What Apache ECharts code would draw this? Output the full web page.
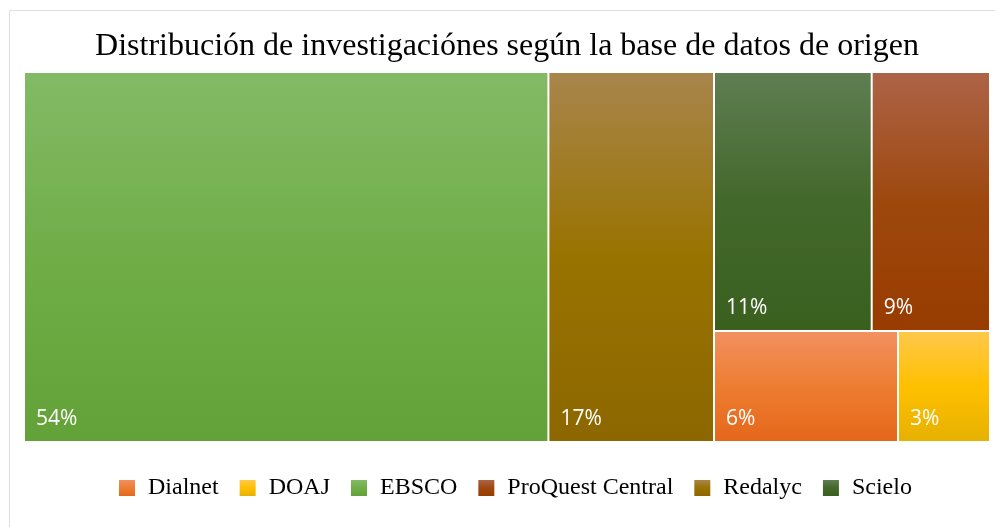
<!DOCTYPE html>
<html>
<head>
<meta charset="utf-8">
<script src="https://cdn.jsdelivr.net/npm/echarts@6/dist/echarts.min.js"></script>
<style>
    html, body {margin: 0; padding: 0; background: #fff;}
    #main {width: 995px; height: 527px;}
</style>
</head>
<body>
<div id="main"></div>
<script>
// datos: numero de investigaciones por base de datos
var bases = ['EBSCO', 'Redalyc', 'Scielo', 'ProQuest Central', 'Dialnet', 'DOAJ'];
var cantidades = [19, 6, 4, 3, 2, 1];
// orden de la leyenda (alfabetico, como en Excel)
var leyenda = ['Dialnet', 'DOAJ', 'EBSCO', 'ProQuest Central', 'Redalyc', 'Scielo'];

// colores: claro arriba, base, oscuro abajo
var colores = {
    'Dialnet': ['#f29060', '#ed7d31', '#e5671b'],
    'DOAJ': ['#ffc84a', '#ffc000', '#e6b100'],
    'EBSCO': ['#83ba66', '#70ad47', '#62a238'],
    'ProQuest Central': ['#ad6346', '#9e480e', '#983c00'],
    'Redalyc': ['#a8854c', '#997300', '#8c6700'],
    'Scielo': ['#5f7e52', '#43682b', '#3a6020']
};

function degradado(nombre) {
    var c = colores[nombre];
    return new echarts.graphic.LinearGradient(0, 0, 0, 1, [
        {offset: 0, color: c[0]},
        {offset: 0.5, color: c[1]},
        {offset: 1, color: c[2]}
    ]);
}

var total = 0;
for (var i = 0; i < cantidades.length; i++) total += cantidades[i];

function nodo(i) {
    return {
        name: bases[i],
        value: cantidades[i],
        itemStyle: {color: degradado(bases[i])}
    };
}

// Excel deja las dos mayores como columnas y el resto en un bloque 2x2;
// se agrupan las menores para que el squarify de echarts haga lo mismo
var arbol = [nodo(0), nodo(1), {name: '', children: []}];
for (var j = 2; j < bases.length; j++) arbol[2].children.push(nodo(j));

var chart = echarts.init(document.getElementById('main'));

chart.setOption({
    animation: false,
    backgroundColor: '#fff',
    graphic: [{
        type: 'rect',
        shape: {x: 9.5, y: 10.5, width: 1000, height: 530},
        style: {fill: 'none', stroke: '#dadfe8', lineWidth: 1},
        silent: true
    }],
    title: {
        text: 'Distribución de investigaciónes según la base de datos de origen',
        left: 507,
        top: 31,
        padding: 0,
        textAlign: 'center',
        textStyle: {
            fontFamily: 'Liberation Serif',
            fontSize: 32,
            fontWeight: 'normal',
            color: '#000'
        }
    },
    legend: {
        data: leyenda,
        left: 119,
        top: 476,
        padding: 0,
        icon: 'rect',
        itemWidth: 16,
        itemHeight: 16,
        itemGap: 21,
        selectedMode: false,
        textStyle: {
            fontFamily: 'Liberation Serif',
            fontSize: 24,
            color: '#000',
            padding: [0, 0, 0, 8]
        }
    },
    series: [
        {
            type: 'treemap',
            left: 25,
            top: 73,
            width: 964,
            height: 368,
            sort: false,
            squareRatio: 1.14,
            roam: false,
            nodeClick: false,
            breadcrumb: {show: false},
            itemStyle: {
                borderWidth: 0,
                gapWidth: 2,
                borderColor: '#fff'
            },
            label: {
                show: true,
                position: 'insideBottomLeft',
                distance: 6,
                color: '#fff',
                fontFamily: 'Open Sans',
                fontSize: 21,
                formatter: function (p) {
                    return Math.round(p.value / total * 100) + '%';
                }
            },
            upperLabel: {show: false},
            data: arbol
        },
        {
            // solo para la leyenda
            type: 'pie',
            radius: [0, 0],
            center: [-200, -200],
            silent: true,
            label: {show: false},
            labelLine: {show: false},
            data: leyenda.map(function (n) {
                return {name: n, value: cantidades[bases.indexOf(n)], itemStyle: {color: degradado(n)}};
            })
        }
    ]
});
</script>
</body>
</html>
